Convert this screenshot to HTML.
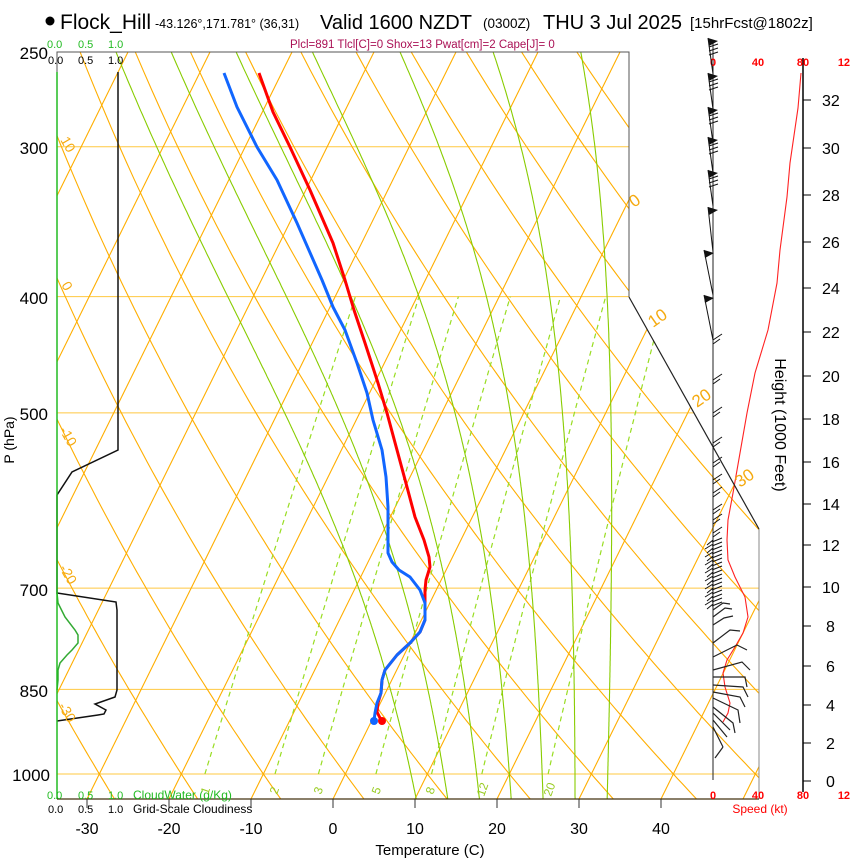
<!DOCTYPE html>
<html><head><meta charset="utf-8"><style>
html,body{margin:0;padding:0;background:#fff;}
svg{display:block;font-family:"Liberation Sans",Arial,sans-serif;}
</style></head><body>
<svg id="s" width="850" height="860" viewBox="0 0 850 860" xmlns="http://www.w3.org/2000/svg">
<defs><clipPath id="cp"><polygon points="57,52 629,52 629,297 759,529 759,799 57,799"/></clipPath></defs>
<g id="grid" clip-path="url(#cp)"></g>
<g id="over"></g>
<!-- borders -->
<polyline points="57,72 57,52 629,52 629,297" fill="none" stroke="#555" stroke-width="1"/>
<line x1="57" y1="72" x2="57" y2="799" stroke="#22bb22" stroke-width="1.5"/>
<line x1="629" y1="297" x2="759" y2="529" stroke="#222" stroke-width="1.2"/>
<line x1="759" y1="529" x2="759" y2="799" stroke="#888" stroke-width="1"/>
<line x1="57" y1="799" x2="759" y2="799" stroke="#443311" stroke-width="1.2"/>
<g stroke="#333" stroke-width="1">
<line x1="87" y1="799" x2="87" y2="808"/><line x1="169" y1="799" x2="169" y2="808"/><line x1="251" y1="799" x2="251" y2="808"/><line x1="333" y1="799" x2="333" y2="808"/><line x1="415" y1="799" x2="415" y2="808"/><line x1="497" y1="799" x2="497" y2="808"/><line x1="579" y1="799" x2="579" y2="808"/><line x1="661" y1="799" x2="661" y2="808"/>
</g>
<!-- title -->
<circle cx="50" cy="21" r="4.5" fill="#000"/>
<text x="60" y="29" font-size="21">Flock_Hill</text>
<text x="155" y="28" font-size="12.5">-43.126°,171.781° (36,31)</text>
<text x="320" y="29" font-size="20">Valid 1600 NZDT</text>
<text x="483" y="28" font-size="13.5">(0300Z)</text>
<text x="543" y="29" font-size="20">THU 3 Jul 2025</text>
<text x="690" y="28" font-size="15">[15hrFcst@1802z]</text>
<text x="290" y="48" font-size="11.5" fill="#aa1155">Plcl=891 Tlcl[C]=0 Shox=13 Pwat[cm]=2 Cape[J]= 0</text>
<!-- cloud scales -->
<g font-size="11">
<text x="47" y="48" fill="#22bb22">0.0</text><text x="78" y="48" fill="#22bb22">0.5</text><text x="108" y="48" fill="#22bb22">1.0</text>
<text x="48" y="64">0.0</text><text x="78" y="64">0.5</text><text x="108" y="64">1.0</text>
<text x="47" y="799" fill="#22bb22">0.0</text><text x="78" y="799" fill="#22bb22">0.5</text><text x="108" y="799" fill="#22bb22">1.0</text>
<text x="133" y="799" fill="#22bb22" font-size="12">CloudWater (g/Kg)</text>
<text x="48" y="813">0.0</text><text x="78" y="813">0.5</text><text x="108" y="813">1.0</text>
<text x="133" y="813" font-size="12">Grid-Scale Cloudiness</text>
</g>
<!-- pressure labels -->
<g font-size="17" text-anchor="end">
<text x="48" y="59">250</text><text x="48" y="154">300</text><text x="48" y="304">400</text><text x="48" y="420">500</text><text x="48" y="596">700</text><text x="48" y="697">850</text><text x="50" y="781">1000</text>
</g>
<text transform="translate(14,440) rotate(-90)" font-size="14" text-anchor="middle">P (hPa)</text>
<!-- temp labels -->
<g font-size="16" text-anchor="middle">
<text x="87" y="834">-30</text><text x="169" y="834">-20</text><text x="251" y="834">-10</text><text x="333" y="834">0</text><text x="415" y="834">10</text><text x="497" y="834">20</text><text x="579" y="834">30</text><text x="661" y="834">40</text>
</g>
<text x="430" y="855" font-size="15" text-anchor="middle">Temperature (C)</text>
<!-- orange labels -->
<g font-size="14" fill="#f5aa10">
<text transform="translate(60,140) rotate(60)">10</text>
<text transform="translate(61,285) rotate(60)">0</text>
<text transform="translate(59,430) rotate(60)">-10</text>
<text transform="translate(59,568) rotate(60)">-20</text>
<text transform="translate(58,706) rotate(60)">-30</text>
<text transform="translate(634,208) rotate(-35)" font-size="17">0</text>
<text transform="translate(653,328) rotate(-35)" font-size="17">10</text>
<text transform="translate(697,408) rotate(-35)" font-size="17">20</text>
<text transform="translate(740,488) rotate(-35)" font-size="17">30</text>
</g>
<g font-size="12" fill="#99cc22">
<text transform="translate(208,795) rotate(-70)">1</text>
<text transform="translate(277,795) rotate(-70)">2</text>
<text transform="translate(321,795) rotate(-70)">3</text>
<text transform="translate(379,795) rotate(-70)">5</text>
<text transform="translate(433,795) rotate(-70)">8</text>
<text transform="translate(484,797) rotate(-70)">12</text>
<text transform="translate(551,797) rotate(-70)">20</text>
</g>
<!-- wind / height panel -->
<line x1="713" y1="40" x2="713" y2="780" stroke="#222" stroke-width="1"/>
<line x1="803" y1="58" x2="803" y2="792" stroke="#000" stroke-width="1.5"/>
<g font-size="11" font-weight="bold" fill="#ff0000" text-anchor="middle">
<text x="713" y="66">0</text><text x="758" y="66">40</text><text x="803" y="66">80</text><text x="847" y="66">120</text>
<text x="713" y="799">0</text><text x="758" y="799">40</text><text x="803" y="799">80</text><text x="847" y="799">120</text>
</g>
<text x="760" y="813" font-size="12" fill="#ff0000" text-anchor="middle">Speed (kt)</text>
<g id="hax" font-size="16"></g>
<text transform="translate(775,425) rotate(90)" font-size="16" text-anchor="middle">Height (1000 Feet)</text>
<g id="barbs" stroke="#111" stroke-width="1" fill="#111"></g>
</svg>
<script>
var NS="http://www.w3.org/2000/svg";
function el(par,tag,attrs){var e=document.createElementNS(NS,tag);for(var k in attrs)e.setAttribute(k,attrs[k]);par.appendChild(e);return e;}
function Y(p){return 774-521*Math.log(1000/p);}
function X(T,y){return 333+8.2*T+0.494*(799-y);}
function pl(par,pts,st){el(par,'polyline',Object.assign({points:pts.map(function(a){return a[0].toFixed(1)+','+a[1].toFixed(1)}).join(' '),fill:'none'},st));}
var g=document.getElementById('grid');
var pb=1049;
// isobars
[300,400,500,700,850,1000].forEach(function(p){var y=Y(p);el(g,'line',{x1:57,y1:y,x2:760,y2:y,stroke:'#ffc840','stroke-width':1});});
// isotherms
for(var T=-120;T<=50;T+=10){pl(g,[[X(T,799),799],[X(T,52),52]],{stroke:'#ffae00','stroke-width':1.1});}
// dry adiabats
for(var th=-60;th<=250;th+=10){var pts=[];for(var p=pb;p>=240;p-=10){var t=(th+273.15)*Math.pow(p/1000,0.2857)-273.15;var y=Y(p);pts.push([X(t,y),y]);}pl(g,pts,{stroke:'#ffae00','stroke-width':1.1});}
// mixing ratio
function es(t){return 6.112*Math.exp(17.67*t/(t+243.5));}
[1,2,3,5,8,12,20].forEach(function(w){var pts=[];for(var p=1000;p>=400;p-=10){var e=w*p/(622+w);var a=Math.log(e/6.112);var t=243.5*a/(17.67-a);var y=Y(p);pts.push([X(t,y),y]);}pl(g,pts,{stroke:'#99dd22','stroke-width':1.2,'stroke-dasharray':'5,4'});});
// moist adiabats
function dTdp(t,p){var T=t+273.15;var e=es(t);var rs=0.622*e/(p-e);var Rd=287,cp=1005,Lv=2.5e6;return (Rd*T+Lv*rs)/(p*(cp+Lv*Lv*rs*0.622/(Rd*T*T)));}
[8,12,16,20,24,28,32].forEach(function(tw){var down=[],t=tw,p=1000,dp=2;while(p<pb){t+=dTdp(t,p)*dp;p+=dp;}var pts=[];t=t;p=pb;
 // integrate back up
 t=tw;p=1000;var tt=tw,pp=1000;while(pp<pb){tt+=dTdp(tt,pp)*dp;pp+=dp;}
 t=tt;p=pp;while(p>=250){var y=Y(p);pts.push([X(t,y),y]);t-=dTdp(t,p)*dp;p-=dp;}
 pl(g,pts,{stroke:'#88cc00','stroke-width':1.1});});
var o=document.getElementById('over');
// cloudiness
pl(o,[[118,72],[118,450],[72,472],[57,495],[57,593],[116,602],[117,610],[117,690],[115,697],[95,704],[106,710],[104,714],[98,715],[57,721]],{stroke:'#111','stroke-width':1.5});
pl(o,[[57,593],[58,603],[65,617],[75,630],[78,635],[78,643],[72,650],[67,655],[60,663],[58,670],[58,680],[57,690]],{stroke:'#33aa33','stroke-width':1.5});
// profiles
var red=[[259,73],[273,112],[290,147],[310,190],[333,243],[345,280],[354,310],[365,343],[378,383],[387,413],[397,450],[407,487],[415,517],[424,540],[429,557],[430,567],[426,580],[425,590],[425,603],[425,620],[420,632],[410,643],[397,655],[385,670],[382,680],[381,693],[378,703],[377,712],[381,720]];
var blue=[[224,73],[237,107],[257,147],[277,180],[297,223],[322,280],[333,307],[345,330],[357,363],[367,393],[373,420],[382,450],[386,477],[388,507],[388,553],[392,562],[399,570],[410,577],[420,590],[425,603],[425,620],[420,632],[410,643],[397,655],[385,670],[382,680],[381,693],[377,703],[375,713],[374,721]];
pl(o,red,{stroke:'#ff0000','stroke-width':3,'stroke-linejoin':'round'});
pl(o,blue,{stroke:'#1166ff','stroke-width':3,'stroke-linejoin':'round'});
el(o,'circle',{cx:382,cy:721,r:4,fill:'#ff0000'});
el(o,'circle',{cx:374,cy:721,r:4,fill:'#1166ff'});
// speed curve
pl(o,[[801,73],[798,108],[790,163],[787,197],[780,250],[777,283],[768,330],[755,373],[747,413],[740,453],[733,493],[728,520],[727,540],[728,560],[735,577],[745,597],[748,617],[743,633],[735,647],[727,660],[723,673],[725,687],[730,703],[728,713],[723,722]],{stroke:'#ff2222','stroke-width':1.1});
// height axis
var hy={0:781,2:743,4:705,6:666,8:626,10:587,12:545,14:504,16:462,18:419,20:376,22:332,24:288,26:242,28:195,30:148,32:100};
var ha=document.getElementById('hax');
for(var k in hy){el(ha,'line',{x1:803,y1:hy[k],x2:811,y2:hy[k],stroke:'#000','stroke-width':1});var t=el(ha,'text',{x:(k<10?826:822),y:hy[k]+6});t.textContent=k;}
// barbs
var b=document.getElementById('barbs');
[38,73,107,137,170,207,250,295].forEach(function(ty,i){var base=ty+(i<5?36:45);var tx=708-(i>5?4:0);
 el(b,'line',{x1:713,y1:base,x2:tx,y2:ty});
 el(b,'polygon',{points:tx+','+ty+' '+(tx+10)+','+(ty+3)+' '+(tx+1)+','+(ty+8),stroke:'none'});
 if(i<5){for(var j=0;j<3;j++){var yy=ty+9+j*4;el(b,'line',{x1:tx+1,y1:yy,x2:tx+10,y2:yy-3});}}
});
[340,380,413,443,463,480,493,510,520,533].forEach(function(y){el(b,'line',{x1:713,y1:y,x2:722,y2:y-6});el(b,'line',{x1:713,y1:y+4,x2:720,y2:y-1});});
for(var y=540;y<605;y+=4){el(b,'line',{x1:713,y1:y,x2:705+(y%8==0?0:2),y2:y+5});el(b,'line',{x1:712,y1:y+2,x2:722,y2:y-2});}
[[[713,610],[723,603],[730,604]],[[713,617],[725,608],[732,609]],[[713,625],[724,618],[733,616]],[[713,643],[730,630],[740,631]],[[713,657],[737,645],[747,650]],[[713,670],[742,662],[750,670]],[[713,677],[745,677],[747,687]],[[713,685],[743,687],[748,697]],[[713,692],[740,697],[745,707]],[[713,698],[738,710],[740,723]],[[713,707],[733,723],[735,733]],[[713,713],[730,730]],[[713,720],[727,737]],[[713,727],[723,747]],[[715,758],[723,747]]].forEach(function(pp){pl(b,pp,{stroke:'#222','stroke-width':1.2});});
</script>
</body></html>
